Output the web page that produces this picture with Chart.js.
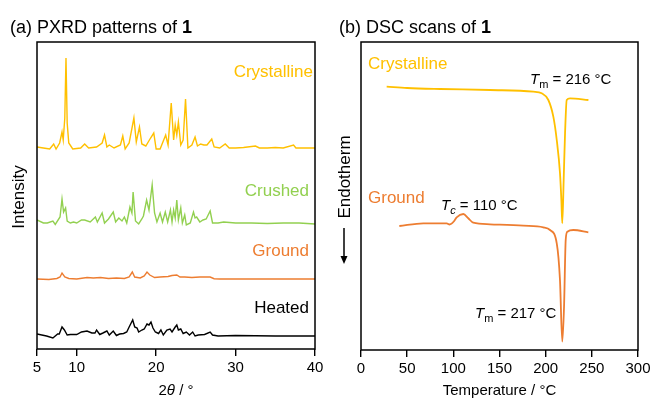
<!DOCTYPE html>
<html><head><meta charset="utf-8">
<script src="https://cdn.jsdelivr.net/npm/chart.js@4.4.0/dist/chart.umd.min.js"></script>
<style>
html,body{margin:0;padding:0;background:#fff;}
#wrap{position:relative;width:654px;height:399px;}
canvas{position:absolute;top:0;}
#c1{left:0;} #c2{left:327px;}
</style></head><body>
<div id="wrap"><canvas id="c1" width="327" height="399"></canvas><canvas id="c2" width="327" height="399"></canvas></div>
<script>
// ---------- DATA ----------
const pxrdTicks = [5, 10, 20, 30, 40];
const dscTicks = [0, 50, 100, 150, 200, 250, 300];
const pxrdNames = ['Crystalline', 'Crushed', 'Ground', 'Heated'];
const pxrdOffsets = [201, 126, 70, 13];   // stacking offsets (a.u.)

const crystTheta = [5.0,5.8,6.6,7.1,7.4,7.85,8.15,8.3,8.5,8.65,8.8,9.0,9.5,10.5,11.0,11.5,12.5,13.2,13.5,13.8,14.1,14.7,15.5,15.8,16.1,16.6,17.2,17.5,17.9,18.2,18.7,19.3,19.7,20.0,20.5,21.2,21.5,21.9,22.2,22.4,22.6,22.8,23.1,23.4,23.7,24.0,24.5,24.9,25.2,25.6,26.0,26.4,27.0,27.3,28.0,28.7,29.2,30,31,32.5,33,34,35,36,37.3,37.6,40];
const crystInt   = [1,0,-1,4,-1,5,16,8,30,90,25,5,-1,0,4,0,1,5,13,1,3,0,3,12,-1,5,30,6,21,4,2,10,15,-1,-1,13,3,45,8,23,13,26,3,8,49,0,3,11,2,4,3,3,9,1,0,4,0,0,0.5,2,0,0,0.5,0,3,0,0];

const crushTheta = [5.0,5.8,6.3,7.0,7.3,7.9,8.15,8.35,8.6,8.8,9.2,9.6,10.0,10.6,11.0,11.7,12.35,12.6,13.2,13.5,14.0,14.6,14.9,15.3,15.7,16.0,16.3,16.7,16.95,17.1,17.4,17.8,18.2,18.4,18.8,19.1,19.5,19.8,20.1,20.5,20.8,21.15,21.45,21.8,22.0,22.2,22.4,22.6,22.8,23.1,23.3,23.6,23.8,24.3,24.7,24.9,25.1,25.5,25.9,26.3,26.8,27.1,27.8,28.5,30,32,34,36,38,40];
const crushInt   = [3,0,0,2,-1.5,6,24,11,15,2,0,1,0,3,3,1,6,1,10,0,4,11,1,5,2,6,0,16,10,31,2,-1,4,7,23,13,38,10,1,10,1,11,1,13,1,13,5,23,3,15,0,8,-2,0,11,5,6,1,3,4,12,0,0,1,0,0,-0.5,0,0,-1];

const groundTheta = [5.0,6.5,7.5,7.9,8.15,8.5,9.0,10,11.3,12.1,13.0,14,15.0,16.0,16.6,17.0,17.3,18,18.5,18.85,19.2,19.8,20.5,21.5,22.0,22.6,23.0,23.6,24.5,25.5,26.8,27.3,28,30,35,40];
const groundInt   = [0,-0.5,0.5,2,6,2,0.5,0,1.5,1,1.5,0.5,1,0.5,2,7,2,1,3,7,4,1.5,2,2.5,3.5,4,2,2,1.5,2,2,0.3,0,0,0,0];

const heatTheta = [5.0,6.2,7.0,7.6,7.8,8.15,8.45,8.8,9.2,10.0,10.6,11.3,11.9,12.3,12.5,12.9,13.3,13.8,14.1,14.6,15.0,15.4,15.9,16.3,16.6,17.05,17.3,17.6,17.8,18.2,18.5,18.85,19.1,19.35,19.6,19.9,20.3,20.6,20.9,21.35,21.75,22.0,22.4,22.6,22.8,23.1,23.4,23.8,24.2,24.6,24.9,25.3,26.1,26.8,27.1,27.8,30,35,40];
const heatInt   = [2,0,-2,2,2,9,6,1,1.5,1.5,4,5,3,3,6,1.5,3,5,1,5,0.5,2,2.5,4,9,16,9,8,4,6,7,12,11,14,8,4,2.5,6,1,6,7,4,9,11,6,7,2.5,4,1,4,0,1,1.5,4,1,0,0.5,0,0];

const dscCrystT = [27.8,50,85.6,139.7,186.6,195.7,202.9,208.3,212,215.5,217,218,219.5,221,222.8,226.4,246.3];
const dscCrystV = [263.3,262,261,260,258.3,256.7,250,233.3,210,177,150,126.7,170,217,250,251.7,250];
const dscGroundT = [41.5,67.5,92.8,96,100.5,103.6,110.8,116.2,121.6,139.7,175.8,197.4,204.7,212,215.5,218,219.9,221.7,223.5,230,246.2];
const dscGroundV = [124,126.7,126.7,125.5,128.5,132.7,136,131.7,127.3,125.7,124.3,122.7,120,106.7,70,8.3,43.3,110,118.3,120,117.7];

// ---------- STYLE ----------
const FAM = '"Liberation Sans", Arial, Helvetica, sans-serif';
const COLORS = ['#FFC000', '#92D050', '#ED7D31', '#000000'];

function pts(xs, ys, off) { return xs.map((x, i) => ({ x: x, y: ys[i] + (off || 0) })); }

function drawRich(ctx, parts, x, y, size, color, align) {
  const fontFor = p => `${p.i ? 'italic ' : ''}${p.b ? 'bold ' : ''}${p.sub ? Math.round(size * 0.72) : size}px ${FAM}`;
  let total = 0;
  parts.forEach(p => { ctx.font = fontFor(p); p.w = ctx.measureText(p.t).width; total += p.w; });
  let cx = align === 'right' ? x - total : align === 'center' ? x - total / 2 : x;
  ctx.fillStyle = color; ctx.textBaseline = 'alphabetic'; ctx.textAlign = 'left';
  parts.forEach(p => { ctx.font = fontFor(p); ctx.fillText(p.t, cx, y + (p.sub ? size * 0.28 : 0)); cx += p.w; });
}

function framePlugin(extra) {
  return {
    id: 'frameAndText',
    afterDraw(chart) {
      const ctx = chart.ctx, a = chart.chartArea;
      ctx.save();
      ctx.strokeStyle = '#000'; ctx.lineWidth = 1.5;
      ctx.strokeRect(a.left, a.top, a.right - a.left, a.bottom - a.top);
      extra(ctx, a);
      ctx.restore();
    }
  };
}

function xAxis(min, max, ticks, h) {
  return {
    type: 'linear', min: min, max: max,
    afterBuildTicks: s => { s.ticks = ticks.map(v => ({ value: v })); },
    afterFit: s => { s.height = h; },
    grid: { drawOnChartArea: false, drawTicks: true, tickLength: 7, color: '#000', lineWidth: 1.4 },
    border: { display: false },
    ticks: { color: '#000', padding: 3, maxRotation: 0, font: { family: FAM, size: 15 } }
  };
}

// ---------- PANEL (a) ----------
const pxrdSets = [
  [crystTheta, crystInt], [crushTheta, crushInt], [groundTheta, groundInt], [heatTheta, heatInt]
].map((s, k) => ({
  label: pxrdNames[k], data: pts(s[0], s[1], pxrdOffsets[k]),
  borderColor: COLORS[k], borderWidth: 1.4, pointRadius: 0, tension: 0, fill: false
}));

new Chart(document.getElementById('c1'), {
  type: 'line',
  data: { datasets: pxrdSets },
  options: {
    responsive: false, animation: false, devicePixelRatio: 1,
    layout: { padding: { left: 37, right: 12, top: 42, bottom: 0 } },
    plugins: { legend: { display: false }, tooltip: { enabled: false } },
    scales: {
      x: xAxis(5, 40, pxrdTicks, 50),
      y: { display: false, min: 0, max: 307 }
    }
  },
  plugins: [framePlugin((ctx, a) => {
    drawRich(ctx, [{ t: '(a) PXRD patterns of ' }, { t: '1', b: true }], 10, 33, 18, '#000', 'left');
    drawRich(ctx, [{ t: 'Crystalline' }], 313, 77, 17, COLORS[0], 'right');
    drawRich(ctx, [{ t: 'Crushed' }], 309, 196, 17, COLORS[1], 'right');
    drawRich(ctx, [{ t: 'Ground' }], 309, 256, 17, COLORS[2], 'right');
    drawRich(ctx, [{ t: 'Heated' }], 309, 313, 17, COLORS[3], 'right');
    drawRich(ctx, [{ t: '2' }, { t: 'θ', i: true }, { t: ' / °' }], (a.left + a.right) / 2, 395, 15, '#000', 'center');
    ctx.save(); ctx.translate(24, 197); ctx.rotate(-Math.PI / 2);
    drawRich(ctx, [{ t: 'Intensity' }], 0, 0, 17, '#000', 'center');
    ctx.restore();
  })]
});

// ---------- PANEL (b) ----------
new Chart(document.getElementById('c2'), {
  type: 'line',
  data: {
    datasets: [
      { label: 'Crystalline', data: pts(dscCrystT, dscCrystV), borderColor: COLORS[0], borderWidth: 1.8, pointRadius: 0, cubicInterpolationMode: 'monotone', fill: false },
      { label: 'Ground', data: pts(dscGroundT, dscGroundV), borderColor: COLORS[2], borderWidth: 1.8, pointRadius: 0, cubicInterpolationMode: 'monotone', fill: false }
    ]
  },
  options: {
    responsive: false, animation: false, devicePixelRatio: 1,
    layout: { padding: { left: 34, right: 16, top: 42, bottom: 0 } },
    plugins: { legend: { display: false }, tooltip: { enabled: false } },
    scales: {
      x: xAxis(0, 300, dscTicks, 49),
      y: { display: false, min: 0, max: 308 }
    }
  },
  plugins: [framePlugin((ctx, a) => {
    drawRich(ctx, [{ t: '(b) DSC scans of ' }, { t: '1', b: true }], 12, 33, 18, '#000', 'left');
    drawRich(ctx, [{ t: 'Crystalline' }], 41, 69, 17, COLORS[0], 'left');
    drawRich(ctx, [{ t: 'Ground' }], 41, 203, 17, COLORS[2], 'left');
    drawRich(ctx, [{ t: 'T', i: true }, { t: 'm', sub: true }, { t: ' = 216 °C' }], 203, 84, 15, '#000', 'left');
    drawRich(ctx, [{ t: 'T', i: true }, { t: 'c', sub: true, i: true }, { t: ' = 110 °C' }], 114, 210, 15, '#000', 'left');
    drawRich(ctx, [{ t: 'T', i: true }, { t: 'm', sub: true }, { t: ' = 217 °C' }], 148, 318, 15, '#000', 'left');
    drawRich(ctx, [{ t: 'Temperature / °C' }], (a.left + a.right) / 2, 395, 15, '#000', 'center');
    // Endotherm with arrow
    ctx.save(); ctx.translate(23, 177); ctx.rotate(-Math.PI / 2);
    drawRich(ctx, [{ t: 'Endotherm' }], 0, 0, 17, '#000', 'center');
    ctx.restore();
    ctx.strokeStyle = '#000'; ctx.fillStyle = '#000'; ctx.lineWidth = 1.5;
    ctx.beginPath(); ctx.moveTo(17, 228); ctx.lineTo(17, 258); ctx.stroke();
    ctx.beginPath(); ctx.moveTo(13.5, 256); ctx.lineTo(20.5, 256); ctx.lineTo(17, 264); ctx.closePath(); ctx.fill();
  })]
});
</script>
</body></html>
